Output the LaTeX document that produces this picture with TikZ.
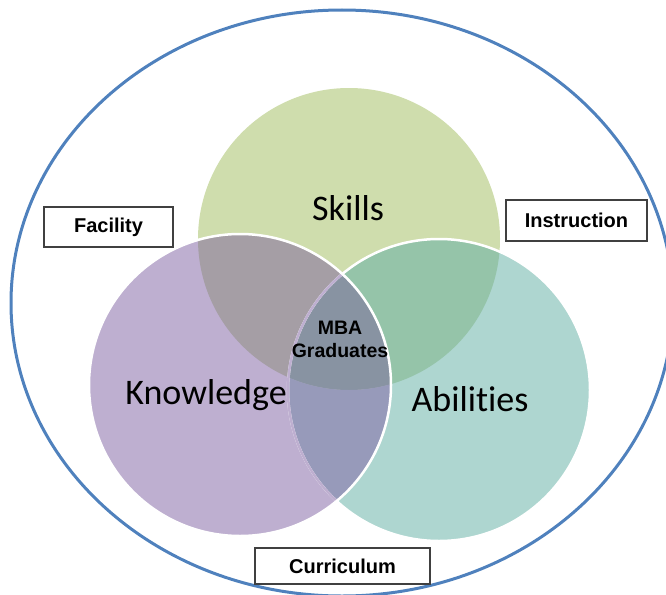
\documentclass[tikz,border=0pt]{standalone}
\usepackage{fontspec}
\setmainfont{Liberation Sans}
\newfontfamily\calib[Ligatures={NoCommon,NoRare,NoContextual}]{Carlito}
\definecolor{cS}{RGB}{207,221,173}
\definecolor{cK}{RGB}{190,175,208}
\definecolor{cA}{RGB}{174,214,208}
\definecolor{cSK}{RGB}{165,158,165}
\definecolor{cSA}{RGB}{149,196,169}
\definecolor{cKA}{RGB}{151,154,186}
\definecolor{cSKA}{RGB}{136,147,162}
\definecolor{ring}{RGB}{79,129,189}
\definecolor{boxline}{RGB}{64,64,64}
\tikzset{
  biglabel/.style={font=\calib\fontsize{36}{40}\selectfont, text=black, inner sep=0pt},
  tagbox/.style={draw=boxline, line width=1.4pt, fill=white, inner sep=0pt,
    font=\bfseries\fontsize{20}{22}\selectfont, text=black},
  centerlabel/.style={font=\bfseries\fontsize{19.5}{23}\selectfont, align=center, text=black, inner sep=0pt},
}
\begin{document}
\begin{tikzpicture}[x=1pt,y=-1pt]
\useasboundingbox (0,0) rectangle (666,594);
\coordinate (S) at (349,239);
\coordinate (K) at (240,385);
\coordinate (A) at (439,390);
\coordinate (O) at (342,303);
% outer ellipse
\draw[ring, line width=3pt] (O) ellipse [x radius=331, y radius=293];
% single fills
\fill[cS] (S) circle (151);
\fill[cA] (A) circle (151);
\fill[cK] (K) circle (151);
% overlaps with Skills
\begin{scope}
  \clip (S) circle (151);
  \fill[cSA] (A) circle (151);
  \fill[cSK] (K) circle (151);
  \clip (A) circle (151);
  \fill[cSKA] (K) circle (151);
\end{scope}
% Knowledge and Abilities, outside Skills
\begin{scope}[even odd rule]
  \clip (A) circle (151);
  \clip (S) circle (151) (0,0) rectangle (666,594);
  \fill[cKA] (K) circle (151);
\end{scope}
% outlines
\draw[white, line width=2.5pt] (A) circle (151);
\begin{scope}
  \clip (K) circle (151);
  \draw[cK, line width=2.5pt] (A) circle (151);
\end{scope}
\draw[white, line width=2.5pt] (K) circle (151);
% labels
\node[biglabel] (skills) at (348,208) {Skills};
\node[biglabel] (knowledge) at (206,395) {Knowledge};
\node[biglabel] (abilities) at (470,399) {Abilities};
\node[centerlabel] (mba) at (340,339) {MBA\\Graduates};
% boxes
\node[tagbox, minimum width=129pt, minimum height=40pt] (facility) at (108.5,227) {Facility};
\node[tagbox, minimum width=141pt, minimum height=41pt] (instruction) at (576.5,220.5) {Instruction};
\node[tagbox, minimum width=175pt, minimum height=36pt] (curriculum) at (342.5,566) {Curriculum};
\end{tikzpicture}
\end{document}
